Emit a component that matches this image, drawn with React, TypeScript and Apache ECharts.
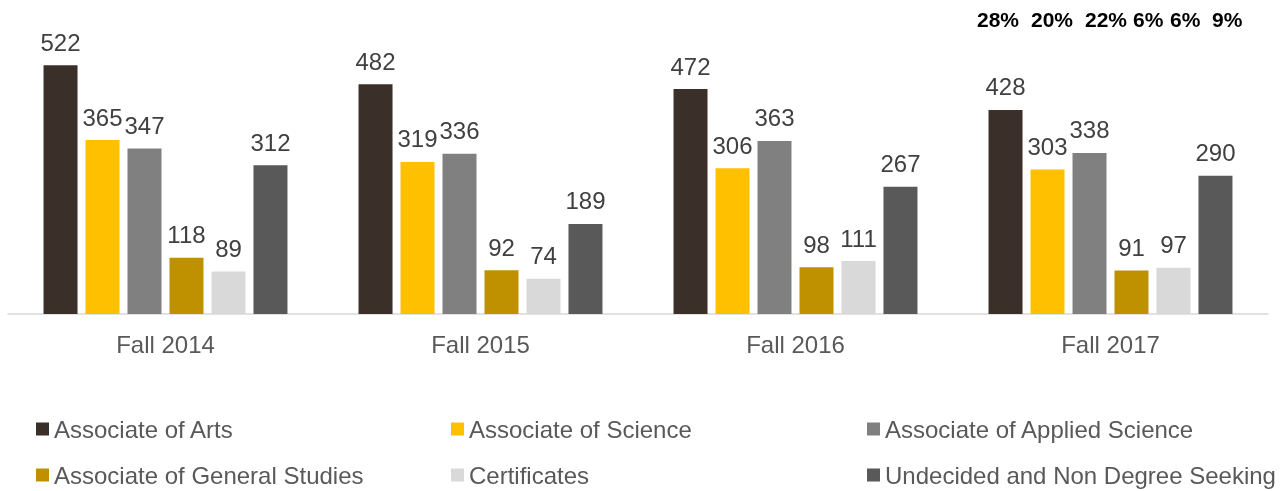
import React, { useEffect, useRef } from "react";
import * as echarts from "echarts";

const categories = ["Fall 2014", "Fall 2015", "Fall 2016", "Fall 2017"];
const seriesNames = [
  "Associate of Arts",
  "Associate of Science",
  "Associate of Applied Science",
  "Associate of General Studies",
  "Certificates",
  "Undecided and Non Degree Seeking",
];
const arts = [522, 482, 472, 428];
const science = [365, 319, 306, 303];
const applied = [347, 336, 363, 338];
const general = [118, 92, 98, 91];
const certificates = [89, 74, 111, 97];
const undecided = [312, 189, 267, 290];
const shares2017 = ["28%", "20%", "22%", "6%", "6%", "9%"];

const colors = ["#3B3029", "#FFC000", "#808080", "#BF9000", "#D9D9D9", "#595959"];
const shareX = [977, 1031, 1085, 1133, 1170, 1212];
const legendLeft = [36, 451, 867, 36, 451, 867];
const legendTop = [417, 417, 417, 463, 463, 463];

export default function App() {
  const ref = useRef<HTMLDivElement>(null);
  useEffect(() => {
    if (!ref.current) return;
    const chart = echarts.init(ref.current, undefined, { renderer: "svg" });
    const values = [arts, science, applied, general, certificates, undecided];
    const font = "Liberation Sans, Arial, sans-serif";
    chart.setOption({
      animation: false,
      color: colors,
      textStyle: { fontFamily: font },
      grid: { left: 8, right: 16, top: 28, bottom: 177, containLabel: false },
      xAxis: {
        type: "category",
        data: categories,
        axisLine: { lineStyle: { color: "#D9D9D9", width: 1.5 } },
        axisTick: { show: false },
        axisLabel: { color: "#595959", fontSize: 24, margin: 18, fontFamily: font },
      },
      yAxis: { type: "value", min: 0, max: 600, show: false, splitLine: { show: false } },
      legend: seriesNames.map((name, i) => ({
        left: legendLeft[i],
        top: legendTop[i],
        padding: 0,
        itemWidth: 13,
        itemHeight: 13,
        itemGap: 0,
        icon: "rect",
        data: [name],
        textStyle: { fontSize: 24, color: "#595959", fontFamily: font },
      })),
      graphic: shares2017.map((t, i) => ({
        type: "text",
        left: shareX[i],
        top: 9,
        style: { text: t, fontSize: 21, fontWeight: "bold", fill: "#000000", fontFamily: font },
      })),
      series: seriesNames.map((name, i) => ({
        name,
        type: "bar",
        data: values[i],
        barWidth: 34,
        barGap: "23.5%",
        itemStyle: { color: colors[i] },
        label: {
          show: true,
          position: "top",
          distance: 11,
          color: "#404040",
          fontSize: 24,
          fontFamily: font,
        },
      })),
    });
    return () => chart.dispose();
  }, []);
  return (
    <div
      ref={ref}
      style={{ position: "fixed", left: 0, top: 0, width: 1284, height: 491 }}
    />
  );
}
